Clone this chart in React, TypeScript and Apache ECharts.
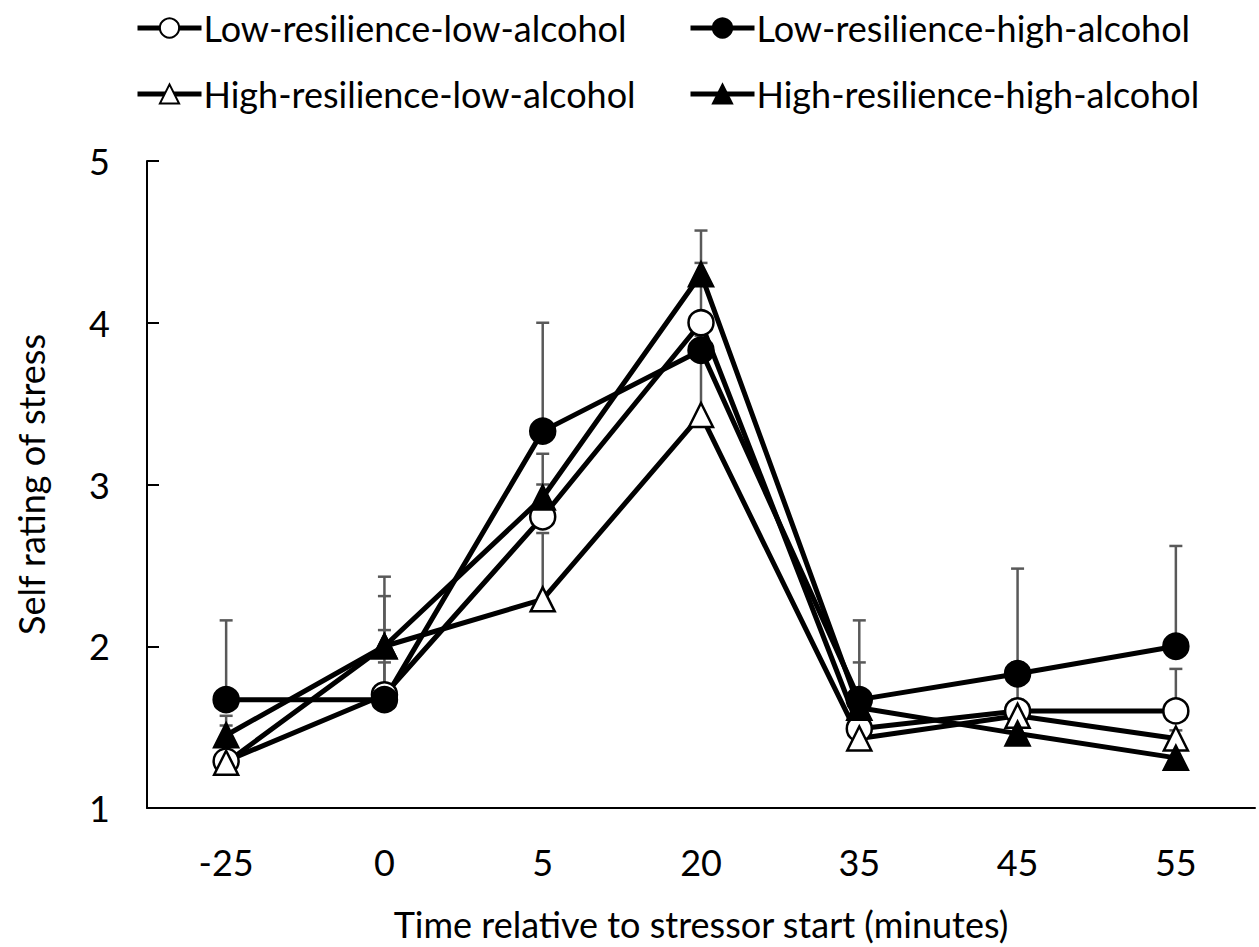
import React, { useEffect, useRef } from "react";
import * as echarts from "echarts";

const categories = ["-25", "0", "5", "20", "35", "45", "55"];
const seriesNames = [
  "Low-resilience-low-alcohol",
  "Low-resilience-high-alcohol",
  "High-resilience-low-alcohol",
  "High-resilience-high-alcohol",
];
const lowResLowAlc = [1.29, 1.7, 2.8, 4.0, 1.49, 1.6, 1.6];
const lowResHighAlc = [1.67, 1.67, 3.33, 3.83, 1.67, 1.83, 2.0];
const highResLowAlc = [1.28, 2.0, 2.29, 3.43, 1.43, 1.57, 1.43];
const highResHighAlc = [1.45, 2.0, 2.92, 4.3, 1.62, 1.46, 1.31];

const errLowResLowAlc = [0.22, 0.2, 0.2, 0.37, 0.1, 0.3, 0.26];
const errLowResHighAlc = [0.49, 0.64, 0.67, 0.09, 0.49, 0.65, 0.62];
const errHighResLowAlc = [0.1, 0.1, 0.41, 0.4, 0.1, 0.1, 0.05];
const errHighResHighAlc = [0.12, 0.43, 0.27, 0.27, 0.28, 0.1, 0.1];

const yTicks = [1, 2, 3, 4, 5];

const FONT = "Lato, sans-serif";
const FS = 36;

export default function App() {
  const ref = useRef<HTMLDivElement>(null);
  useEffect(() => {
    if (!ref.current) return;
    const chart = echarts.init(ref.current, null, { renderer: "svg" });
    const values = [lowResLowAlc, lowResHighAlc, highResLowAlc, highResHighAlc];
    const errs = [errLowResLowAlc, errLowResHighAlc, errHighResLowAlc, errHighResHighAlc];
    const symbols = ["circle", "circle", "triangle", "triangle"];
    const fills = ["#ffffff", "#000000", "#ffffff", "#000000"];

    const errData: number[][] = [];
    values.forEach((vals, s) => {
      vals.forEach((v, i) => errData.push([i, v, errs[s][i]]));
    });

    const lineSeries = values.map((vals, s) => ({
      name: seriesNames[s],
      type: "line",
      data: vals,
      symbol: symbols[s],
      symbolSize: symbols[s] === "circle" ? 25 : 24,
      showAllSymbol: true,
      z: 3,
      lineStyle: { color: "#000", width: 5 },
      itemStyle: { color: fills[s], borderColor: "#000", borderWidth: 2.5 },
      emphasis: { disabled: true },
    }));

    const legendPos = [
      { left: 135, top: 10 },
      { left: 688, top: 10 },
      { left: 135, top: 76 },
      { left: 688, top: 76 },
    ];

    chart.setOption({
      animation: false,
      backgroundColor: "#fff",
      legend: seriesNames.map((n, i) => ({
        data: [n],
        left: legendPos[i].left,
        top: legendPos[i].top,
        padding: 0,
        itemWidth: 64,
        itemHeight: 24,
        itemGap: 4,
        selectedMode: false,
        lineStyle: { width: 5, color: "#000" },
        textStyle: { fontSize: FS, color: "#000", fontFamily: FONT, padding: [0, 0, 0, -3] },
      })),
      grid: { left: 147, right: 4, top: 161, bottom: 131, containLabel: false },
      xAxis: {
        type: "category",
        data: categories,
        boundaryGap: true,
        name: "Time relative to stressor start (minutes)",
        nameLocation: "middle",
        nameGap: 98,
        nameTextStyle: { fontSize: FS, color: "#000", fontFamily: FONT },
        axisLine: { lineStyle: { color: "#000", width: 2 } },
        axisTick: { alignWithLabel: true, inside: true, length: 8, lineStyle: { color: "#000", width: 2 } },
        axisLabel: { fontSize: FS, color: "#000", fontFamily: FONT, margin: 36 },
        splitLine: { show: false },
      },
      yAxis: {
        type: "value",
        min: yTicks[0],
        max: yTicks[yTicks.length - 1],
        interval: 1,
        name: "Self rating of stress",
        nameLocation: "middle",
        nameGap: 98,
        nameRotate: 90,
        nameTextStyle: { fontSize: FS, color: "#000", fontFamily: FONT },
        axisLine: { show: true, lineStyle: { color: "#000", width: 2 } },
        axisTick: { show: true, inside: true, length: 12, lineStyle: { color: "#000", width: 2 } },
        axisLabel: { fontSize: FS, color: "#000", fontFamily: FONT, margin: 37 },
        splitLine: { show: false },
      },
      series: [
        {
          type: "custom",
          name: "errors",
          z: 1,
          silent: true,
          data: errData,
          encode: { x: 0, y: 1 },
          renderItem: (params: any, api: any) => {
            const x = api.value(0);
            const v = api.value(1);
            const e = api.value(2);
            const p0 = api.coord([x, v]);
            const p1 = api.coord([x, v + e]);
            const style = { stroke: "#595959", lineWidth: 2.5 };
            return {
              type: "group",
              children: [
                { type: "line", shape: { x1: p0[0], y1: p0[1], x2: p1[0], y2: p1[1] }, style },
                { type: "line", shape: { x1: p1[0] - 6.5, y1: p1[1], x2: p1[0] + 6.5, y2: p1[1] }, style },
              ],
            };
          },
        },
        ...lineSeries,
      ],
    });
    return () => chart.dispose();
  }, []);
  return (
    <div
      ref={ref}
      style={{ position: "absolute", left: 0, top: 0, width: 1259, height: 947 }}
    />
  );
}
